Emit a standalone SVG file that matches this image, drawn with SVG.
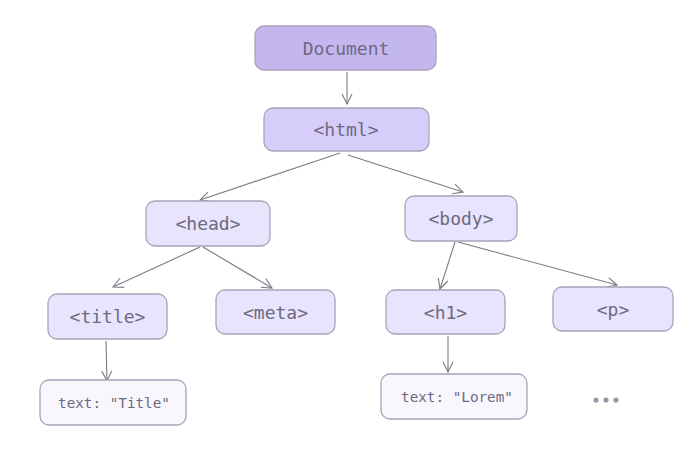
<svg xmlns="http://www.w3.org/2000/svg" width="700" height="458" viewBox="0 0 700 458">
<defs>
<style>
.n rect{stroke:#a8a3b8;stroke-width:1.3}
.d rect{fill:#c4b7ef}
.h rect{fill:#d6cdfb}
.e rect{fill:#e8e4fd}
.t rect{fill:#f8f7fd}
.n text{font-family:"DejaVu Sans Mono","Liberation Mono",monospace;fill:#6d6980;text-anchor:middle;dominant-baseline:central;font-size:18px}
.t text{font-size:14.3px}
#edges line{stroke:#7d7a85;stroke-width:1.1;fill:none;marker-end:url(#ah)}
</style>
<marker id="ah" viewBox="0 0 12 12" refX="11" refY="6" markerWidth="12" markerHeight="12" markerUnits="userSpaceOnUse" orient="auto">
<path d="M1,1 L11,6 L1,11" fill="none" stroke="#7d7a85" stroke-width="1.1"/>
</marker>
</defs>
<rect width="700" height="458" fill="#ffffff"/>
<g id="edges">
<line x1="347" y1="72" x2="347" y2="104"/>
<line x1="340" y1="153" x2="200" y2="200"/>
<line x1="348" y1="155" x2="463" y2="192"/>
<line x1="200" y1="247" x2="113" y2="287"/>
<line x1="203" y1="247" x2="272" y2="288"/>
<line x1="455" y1="242" x2="440" y2="289"/>
<line x1="458" y1="242" x2="617" y2="285"/>
<line x1="106" y1="341" x2="107" y2="381"/>
<line x1="448" y1="336" x2="448" y2="372"/>
</g>
<g id="document" class="n d"><rect x="255" y="26" width="181" height="44" rx="9"/><text x="346" y="48.5">Document</text></g>
<g id="html" class="n h"><rect x="264" y="108" width="165" height="43" rx="9"/><text x="346" y="129.5">&lt;html&gt;</text></g>
<g id="head" class="n e"><rect x="146" y="201" width="124" height="45" rx="9"/><text x="208" y="223.5">&lt;head&gt;</text></g>
<g id="body" class="n e"><rect x="405" y="196" width="112" height="45" rx="9"/><text x="461" y="218.5">&lt;body&gt;</text></g>
<g id="title" class="n e"><rect x="48" y="294" width="119" height="45" rx="9"/><text x="107.5" y="316.5">&lt;title&gt;</text></g>
<g id="meta" class="n e"><rect x="216" y="290" width="119" height="44" rx="9"/><text x="275.5" y="312">&lt;meta&gt;</text></g>
<g id="h1" class="n e"><rect x="386" y="290" width="119" height="44" rx="9"/><text x="445.5" y="312">&lt;h1&gt;</text></g>
<g id="p" class="n e"><rect x="553" y="287" width="120" height="44" rx="9"/><text x="613" y="309">&lt;p&gt;</text></g>
<g id="text-title" class="n t"><rect x="40" y="380" width="146" height="45" rx="9"/><text x="114" y="402.5">text: "Title"</text></g>
<g id="text-lorem" class="n t"><rect x="381" y="374" width="146" height="45" rx="9"/><text x="457" y="396.5">text: "Lorem"</text></g>
<g id="ellipsis" fill="#9a97a6"><circle cx="596" cy="400" r="2.6"/><circle cx="606" cy="400" r="2.6"/><circle cx="616" cy="400" r="2.6"/></g>
</svg>
